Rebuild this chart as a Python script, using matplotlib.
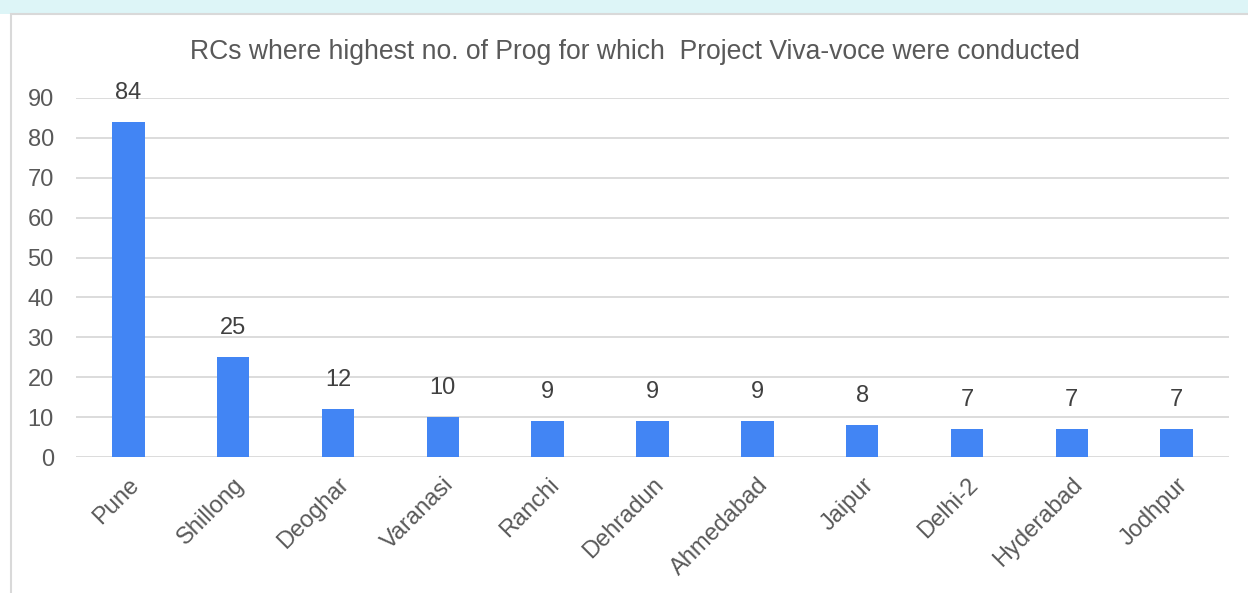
import matplotlib.pyplot as plt
import numpy as np
from matplotlib.patches import Rectangle

plt.rcParams['font.family'] = ['Liberation Sans', 'DejaVu Sans']

centres = ['Pune', 'Shillong', 'Deoghar', 'Varanasi', 'Ranchi', 'Dehradun',
           'Ahmedabad', 'Jaipur', 'Delhi-2', 'Hyderabad', 'Jodhpur']
programmes = [84, 25, 12, 10, 9, 9, 9, 8, 7, 7, 7]

fig = plt.figure(figsize=(12.48, 5.93), dpi=100)

# pale strip at the top and the chart frame
fig.patches.append(Rectangle((0, 1 - 14 / 593), 1, 14 / 593, transform=fig.transFigure,
                             facecolor='#ddf5f7', edgecolor='none', zorder=-2))
fig.patches.append(Rectangle((11 / 1248, -0.05), 1.1, 1 - 14 / 593 + 0.05,
                             transform=fig.transFigure, facecolor='white',
                             edgecolor='#d9d9d9', linewidth=1.5, zorder=-1))

ax = fig.add_axes([76 / 1248, 1 - 457 / 593, (1229 - 76) / 1248, (457 - 98) / 593])
ax.set_facecolor('none')

x = np.arange(len(centres))
rects = ax.bar(x, programmes, width=0.31, color='#4285F4', zorder=3)
ax.bar_label(rects, padding=13, fontsize=17, color='#404040')

ax.set_xlim(-0.5, len(centres) - 0.5)
ax.set_ylim(0, 90)
ax.set_yticks(range(0, 91, 10))
ax.set_xticks(x, centres, rotation=45, ha='right', rotation_mode='anchor')
ax.tick_params(axis='both', length=0, labelsize=17, labelcolor='#595959')
ax.tick_params(axis='x', pad=12)
ax.tick_params(axis='y', pad=16)
ax.grid(axis='y', color='#d9d9d9', linewidth=1.3, zorder=0)
for s in ax.spines.values():
    s.set_visible(False)

fig.text(635 / 1248, 1 - 52 / 593, 'RCs where highest no. of Prog for which  Project Viva-voce were conducted',
         ha='center', va='center', fontsize=19.1, color='#595959')

fig.savefig('out.png', dpi=100)
